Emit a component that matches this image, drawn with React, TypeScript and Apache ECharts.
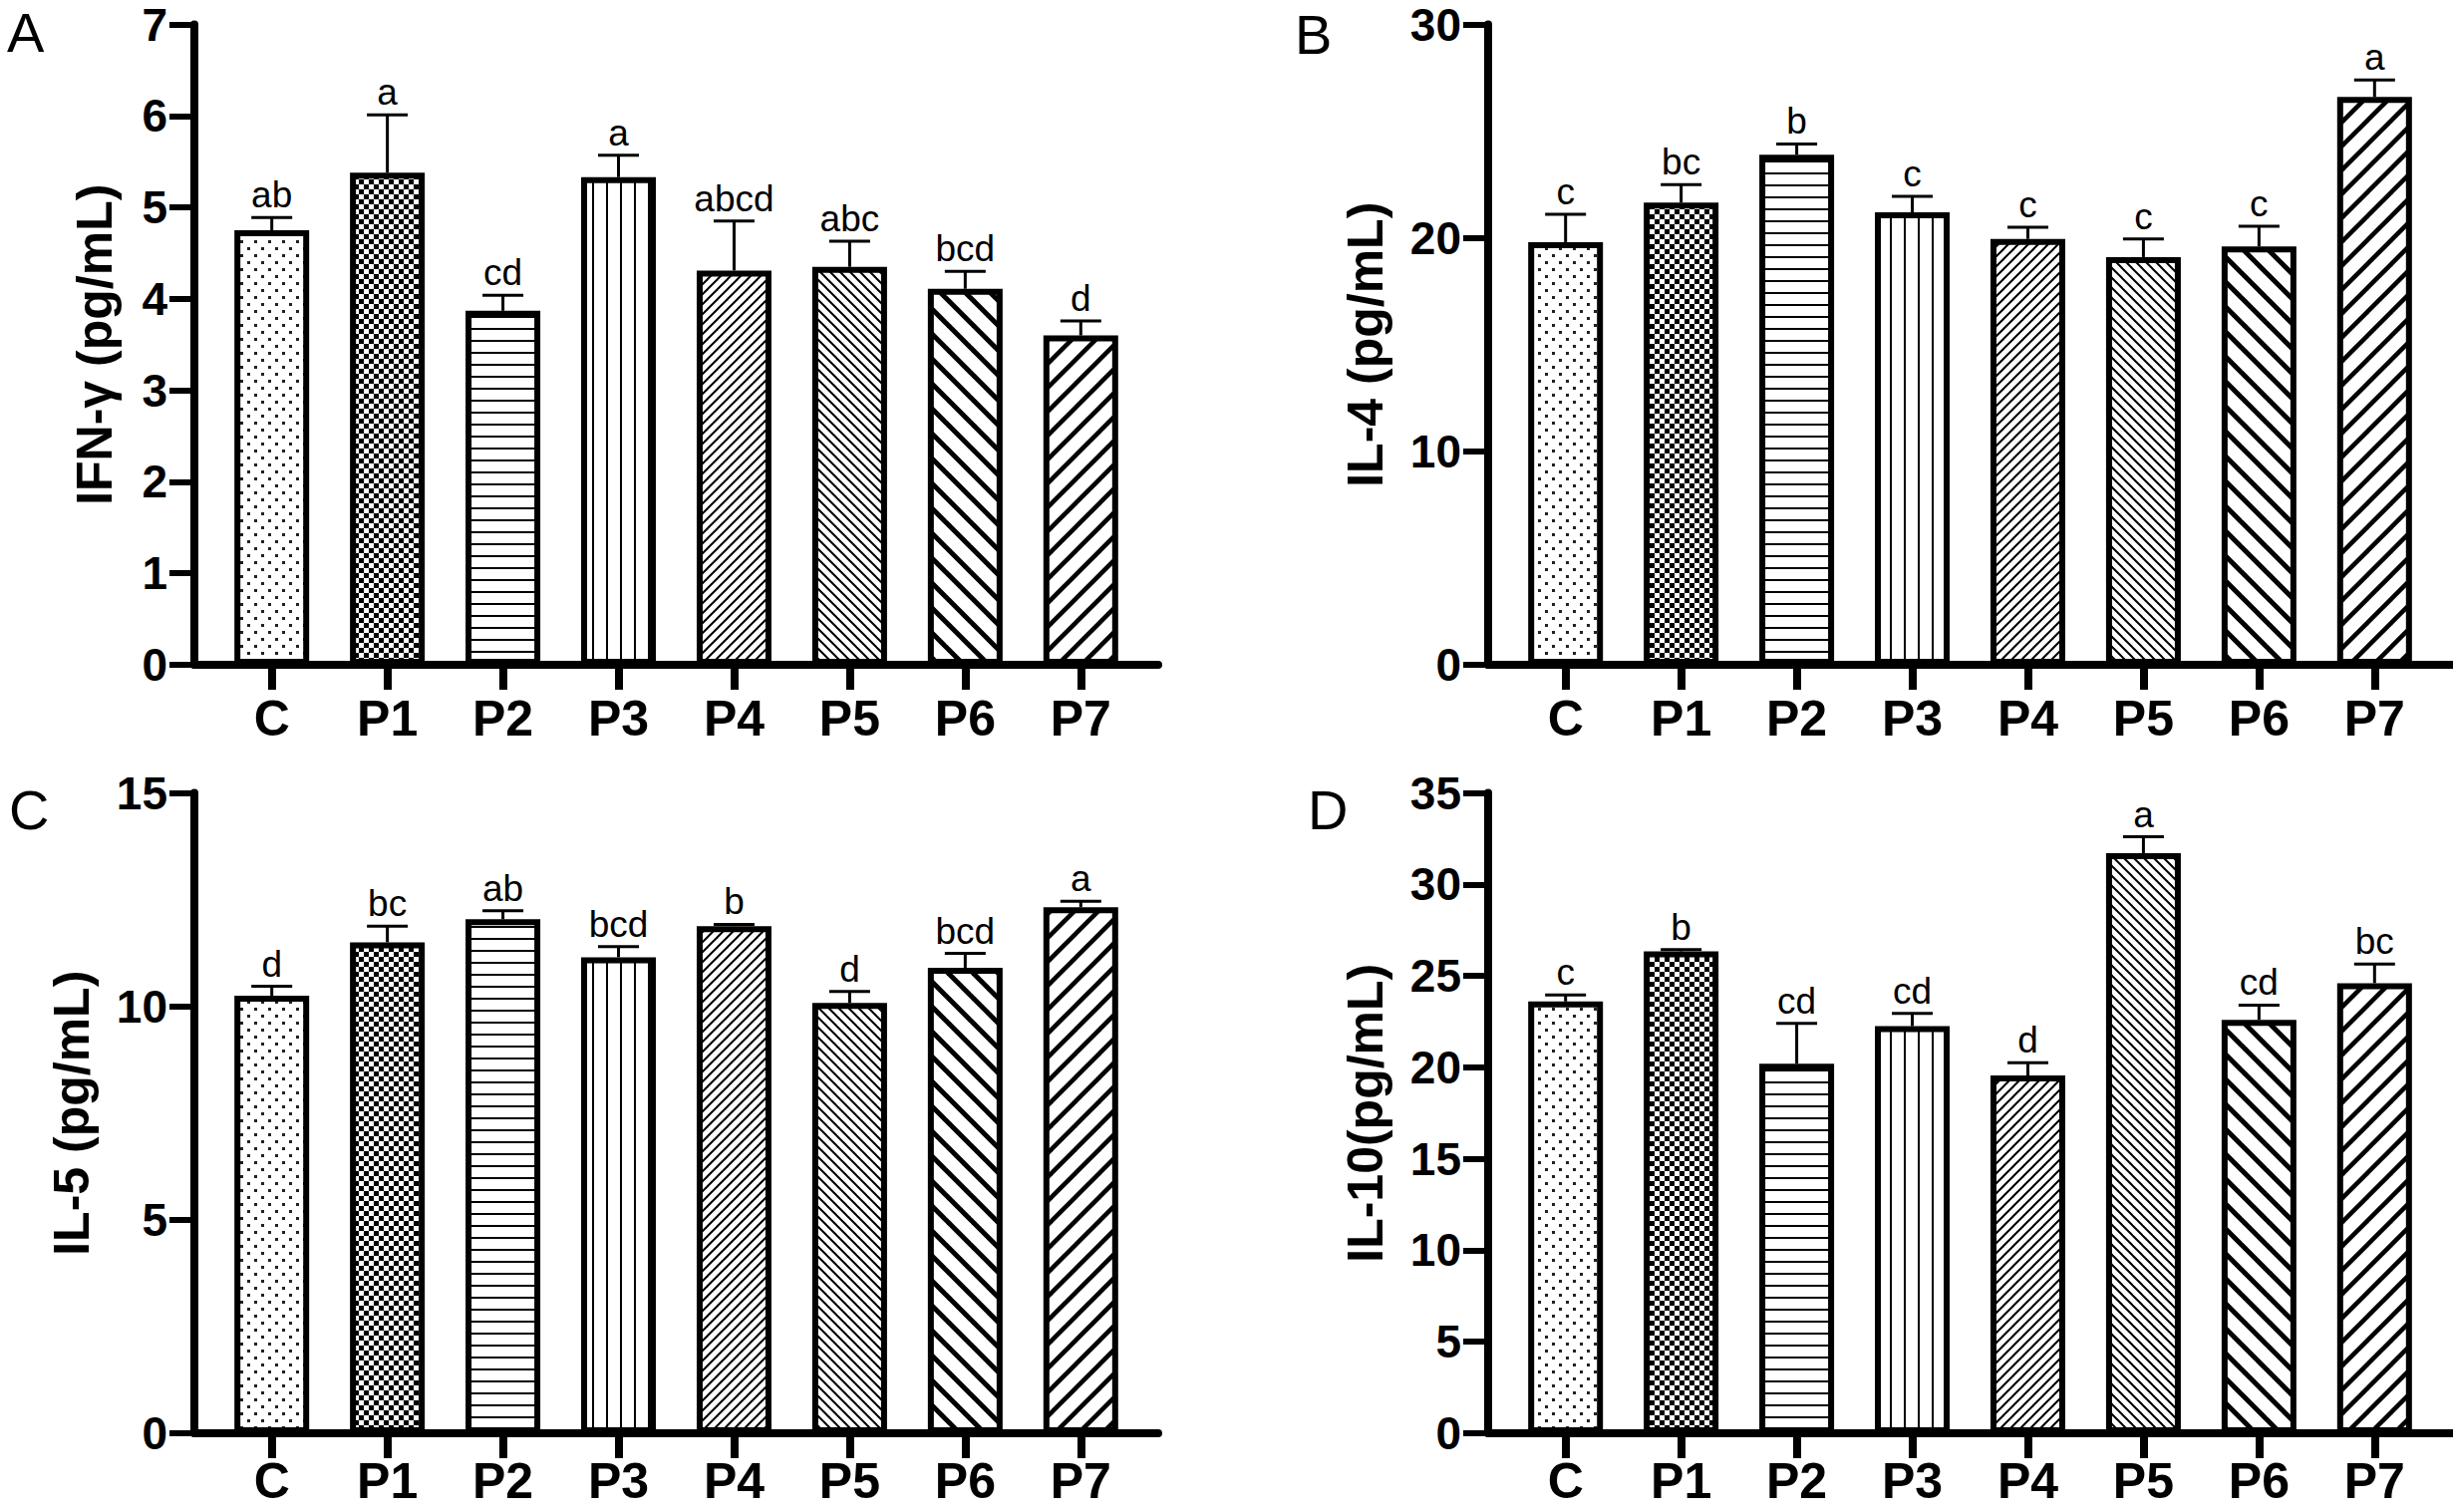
import React, { useEffect, useRef } from "react";
import * as echarts from "echarts";

// ---------- data ----------
const categories = ["C", "P1", "P2", "P3", "P4", "P5", "P6", "P7"];

const ifnMean = [4.75, 5.38, 3.87, 5.33, 4.31, 4.35, 4.11, 3.6];
const ifnErr = [0.14, 0.63, 0.17, 0.24, 0.54, 0.28, 0.19, 0.16];
const ifnLetters = ["ab", "a", "cd", "a", "abcd", "abc", "bcd", "d"];

const il4Mean = [19.8, 21.65, 23.9, 21.2, 19.95, 19.1, 19.6, 26.6];
const il4Err = [1.3, 0.85, 0.5, 0.75, 0.55, 0.85, 0.95, 0.8];
const il4Letters = ["c", "bc", "b", "c", "c", "c", "c", "a"];

const il5Mean = [10.25, 11.5, 12.04, 11.15, 11.88, 10.08, 10.9, 12.32];
const il5Err = [0.22, 0.38, 0.2, 0.25, 0.04, 0.27, 0.34, 0.14];
const il5Letters = ["d", "bc", "ab", "bcd", "b", "d", "bcd", "a"];

const il10Mean = [23.6, 26.34, 20.2, 22.25, 19.55, 31.7, 22.6, 24.6];
const il10Err = [0.35, 0.1, 2.2, 0.7, 0.7, 0.9, 0.8, 1.05];
const il10Letters = ["c", "b", "cd", "cd", "d", "a", "cd", "bc"];

const FONT = '"Liberation Sans", Arial, Helvetica, sans-serif';

// ---------- patterns ----------
function makeTile(w: number, h: number, draw: (ctx: CanvasRenderingContext2D) => void) {
  const c = document.createElement("canvas");
  c.width = w;
  c.height = h;
  const ctx = c.getContext("2d") as CanvasRenderingContext2D;
  ctx.fillStyle = "#fff";
  ctx.fillRect(0, 0, w, h);
  ctx.fillStyle = "#000";
  ctx.strokeStyle = "#000";
  draw(ctx);
  return { image: c.toDataURL(), repeat: "repeat", imageWidth: w, imageHeight: h };
}

function diag(s: number, lw: number, forward: boolean) {
  return makeTile(s, s, (ctx) => {
    ctx.lineWidth = lw;
    for (let k = -1; k <= 1; k++) {
      ctx.beginPath();
      if (forward) {
        ctx.moveTo(k * s - 3, s + 3);
        ctx.lineTo(k * s + s + 3, -3);
      } else {
        ctx.moveTo(k * s - 3, -3);
        ctx.lineTo(k * s + s + 3, s + 3);
      }
      ctx.stroke();
    }
  });
}

function buildPatterns() {
  return [
    makeTile(14, 14, (ctx) => {
      ctx.fillStyle = "#222";
      ctx.fillRect(3, 3, 3, 3);
      ctx.fillRect(10, 10, 3, 3);
    }),
    makeTile(10, 10, (ctx) => {
      ctx.fillRect(0, 0, 5, 5);
      ctx.fillRect(5, 5, 5, 5);
    }),
    makeTile(4, 12, (ctx) => {
      ctx.fillRect(0, 5, 4, 2);
    }),
    makeTile(14, 4, (ctx) => {
      ctx.fillRect(6, 0, 2, 4);
    }),
    diag(10, 2, true),
    diag(10, 2, false),
    diag(25, 5, false),
    diag(24, 4.5, true),
  ];
}

// ---------- panels ----------
const panels = [
  { tag: "A", title: "IFN-γ (pg/mL)", mean: ifnMean, err: ifnErr, letters: ifnLetters, max: 7, interval: 1, left: 195, top: 24.5, nameGap: 75, labelMargin: 32, tagX: 7, tagY: 4 },
  { tag: "B", title: "IL-4 (pg/mL)", mean: il4Mean, err: il4Err, letters: il4Letters, max: 30, interval: 10, left: 1493, top: 24.5, nameGap: 98, labelMargin: 32, tagX: 1299, tagY: 6 },
  { tag: "C", title: "IL-5 (pg/mL)", mean: il5Mean, err: il5Err, letters: il5Letters, max: 15, interval: 5, left: 195, top: 795.5, nameGap: 98, labelMargin: 26, tagX: 9, tagY: 784 },
  { tag: "D", title: "IL-10(pg/mL)", mean: il10Mean, err: il10Err, letters: il10Letters, max: 35, interval: 5, left: 1493, top: 795.5, nameGap: 98, labelMargin: 26, tagX: 1312, tagY: 784 },
];

const GRID_W = 967;
const GRID_H = 642.5;
const X_MIN = -0.67;
const X_MAX = 7.67;

export default function App() {
  const ref = useRef<HTMLDivElement>(null);

  useEffect(() => {
    if (!ref.current) return;
    const chart = echarts.init(ref.current, null, { renderer: "svg" });
    const patterns = buildPatterns();
    const idx = categories.map((_, i) => i);

    const grid: any[] = [];
    const xAxis: any[] = [];
    const yAxis: any[] = [];
    const series: any[] = [];
    const graphic: any[] = [];

    panels.forEach((p, gi) => {
      grid.push({ left: p.left, top: p.top, width: GRID_W, height: GRID_H, containLabel: false });
      xAxis.push({
        type: "value",
        gridIndex: gi,
        min: X_MIN,
        max: X_MAX,
        splitLine: { show: false },
        axisLine: { show: true, onZero: false, lineStyle: { color: "#000", width: 8 } },
        axisTick: { show: true, customValues: idx, length: 25, lineStyle: { color: "#000", width: 8 } },
        axisLabel: {
          show: true,
          customValues: idx,
          formatter: (v: number) => categories[Math.round(v)],
          margin: p.labelMargin,
          lineHeight: 44,
          color: "#000",
          fontSize: 50,
          fontWeight: "bold",
          fontFamily: FONT,
        },
      });
      yAxis.push({
        type: "value",
        gridIndex: gi,
        min: 0,
        max: p.max,
        interval: p.interval,
        name: p.title,
        nameLocation: "middle",
        nameGap: p.nameGap,
        nameTextStyle: { color: "#000", fontSize: 50, fontWeight: "bold", fontFamily: FONT },
        splitLine: { show: false },
        axisLine: { show: true, onZero: false, lineStyle: { color: "#000", width: 8 } },
        axisTick: { show: true, length: 25, lineStyle: { color: "#000", width: 6 } },
        axisLabel: { margin: 27, color: "#000", fontSize: 46, fontWeight: "bold", fontFamily: FONT },
      });
      series.push({
        type: "bar",
        xAxisIndex: gi,
        yAxisIndex: gi,
        barWidth: 75,
        data: p.mean.map((v, i) => ({
          value: [i, v],
          itemStyle: { color: patterns[i], borderColor: "#000", borderWidth: 6 },
        })),
      });
      const letters = p.letters;
      series.push({
        type: "custom",
        xAxisIndex: gi,
        yAxisIndex: gi,
        clip: false,
        encode: { x: 0, y: 1 },
        data: p.mean.map((v, i) => [i, v, p.err[i]]),
        renderItem: (params: any, api: any) => {
          const i = api.value(0);
          const v = api.value(1);
          const e = api.value(2);
          const base = api.coord([i, v]);
          const top = api.coord([i, v + e]);
          return {
            type: "group",
            children: [
              { type: "line", shape: { x1: base[0], y1: base[1], x2: base[0], y2: top[1] }, style: { stroke: "#000", lineWidth: 3 } },
              { type: "line", shape: { x1: base[0] - 20.5, y1: top[1], x2: base[0] + 20.5, y2: top[1] }, style: { stroke: "#000", lineWidth: 3 } },
              {
                type: "text",
                x: base[0],
                y: top[1] - 4,
                style: {
                  text: letters[params.dataIndex],
                  align: "center",
                  verticalAlign: "bottom",
                  fontSize: 37,
                  fontFamily: FONT,
                  fill: "#000",
                },
              },
            ],
          };
        },
      });
      graphic.push({
        type: "text",
        left: p.tagX,
        top: p.tagY,
        style: { text: p.tag, fontSize: 56, fontFamily: FONT, fill: "#000" },
      });
    });

    chart.setOption({
      animation: false,
      backgroundColor: "#fff",
      grid,
      xAxis,
      yAxis,
      series,
      graphic,
    });

    return () => chart.dispose();
  }, []);

  return (
    <div
      ref={ref}
      style={{ position: "fixed", left: 0, top: 0, width: 2461, height: 1517, background: "#fff" }}
    />
  );
}
